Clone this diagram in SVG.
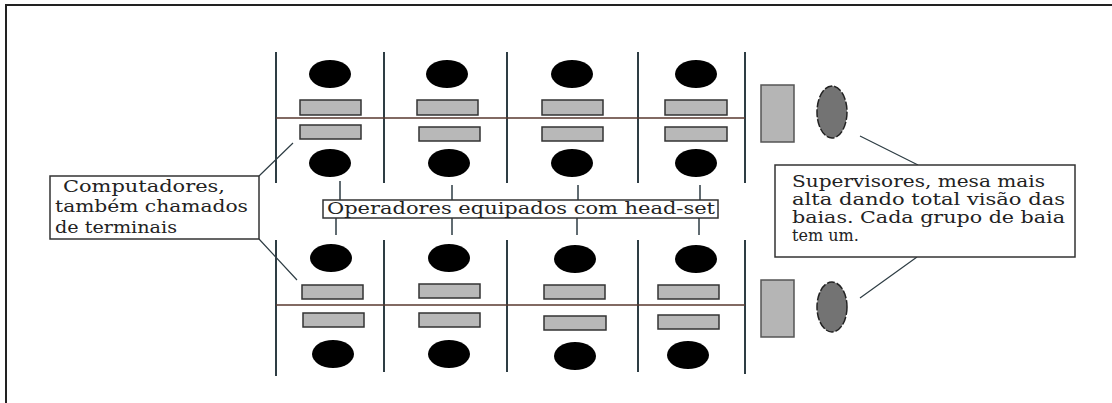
<svg xmlns="http://www.w3.org/2000/svg" width="1112" height="403" viewBox="0 0 1112 403">
<style>
.frame{stroke:#222;stroke-width:2;fill:none}
.wall{stroke:#2e3d44;stroke-width:2;fill:none}
.aisle{stroke:#5a3a30;stroke-width:1.3;fill:none}
.head{fill:#000}
.desk{fill:#b8b8b8;stroke:#333;stroke-width:1.5}
.sdesk{fill:#b5b5b5;stroke:#555;stroke-width:1.5}
.sup{fill:#737373;stroke:#222;stroke-width:1.5;stroke-dasharray:8 2}
.box{fill:#fff;stroke:#333;stroke-width:1.5}
.lead{stroke:#2e3d44;stroke-width:1.2;fill:none}
.tick{stroke:#2e3d44;stroke-width:1.5}
.lbl{font-family:'DejaVu Serif','Liberation Serif',serif;font-size:16px;fill:#222}
</style>
<rect width="1112" height="403" fill="#fff"/>
<path class="frame" d="M6,403 V5 H1112"/>
<g id="layout">
<g id="walls">
<path class="wall" d="M276,52V183M384,52V183M507,52V183M638,52V183M745,52V183"/>
<path class="wall" d="M276,240V376M384,240V372M507,240V372M638,240V372M745,240V374"/>
<path class="aisle" d="M276,118H745M276,305H745"/>
</g>
<g id="bay-top">
<ellipse class="head" cx="330" cy="74" rx="21" ry="14"/>
<ellipse class="head" cx="447" cy="74" rx="21" ry="14"/>
<ellipse class="head" cx="572" cy="74" rx="21" ry="14"/>
<ellipse class="head" cx="696" cy="74" rx="21" ry="14"/>
<rect class="desk" x="300" y="100" width="61" height="15"/>
<rect class="desk" x="417" y="100" width="61" height="15"/>
<rect class="desk" x="542" y="100" width="61" height="15"/>
<rect class="desk" x="665" y="100" width="62" height="15"/>
<rect class="desk" x="300" y="125" width="61" height="14"/>
<rect class="desk" x="419" y="127" width="61" height="14"/>
<rect class="desk" x="542" y="127" width="61" height="14"/>
<rect class="desk" x="665" y="127" width="62" height="14"/>
<ellipse class="head" cx="330" cy="163" rx="21" ry="14"/>
<ellipse class="head" cx="449" cy="163" rx="21" ry="14"/>
<ellipse class="head" cx="572" cy="163" rx="21" ry="14"/>
<ellipse class="head" cx="696" cy="163" rx="21" ry="14"/>
</g>
<g id="bay-bottom">
<ellipse class="head" cx="331" cy="258" rx="21" ry="14"/>
<ellipse class="head" cx="449" cy="258" rx="21" ry="14"/>
<ellipse class="head" cx="575" cy="259" rx="21" ry="14"/>
<ellipse class="head" cx="696" cy="259" rx="21" ry="14"/>
<rect class="desk" x="302" y="285" width="61" height="14"/>
<rect class="desk" x="419" y="284" width="61" height="14"/>
<rect class="desk" x="544" y="285" width="61" height="14"/>
<rect class="desk" x="658" y="285" width="61" height="14"/>
<rect class="desk" x="303" y="313" width="61" height="14"/>
<rect class="desk" x="419" y="313" width="61" height="14"/>
<rect class="desk" x="544" y="316" width="62" height="14"/>
<rect class="desk" x="658" y="315" width="61" height="14"/>
<ellipse class="head" cx="333" cy="354" rx="21" ry="14"/>
<ellipse class="head" cx="449" cy="354" rx="21" ry="14"/>
<ellipse class="head" cx="575" cy="356" rx="21" ry="14"/>
<ellipse class="head" cx="688" cy="355" rx="21" ry="14"/>
</g>
<g id="supervisors">
<rect class="sdesk" x="761" y="85" width="33" height="57"/>
<ellipse class="sup" cx="832" cy="112" rx="15" ry="26"/>
<rect class="sdesk" x="761" y="280" width="33" height="57"/>
<ellipse class="sup" cx="832" cy="307" rx="15" ry="25"/>
</g>
</g>
<g id="connectors">
<path class="tick" d="M340,181V200M452,185V200M578,185V200M700,185V200"/>
<path class="tick" d="M336,218V235M452,218V235M577,218V235M699,218V235"/>
<path class="lead" d="M259,176L293,143M259,239L297,280"/>
<path class="lead" d="M860,136L918,165M917,257L860,298"/>
</g>
<g id="label-computadores">
<rect class="box" x="50" y="176" width="209" height="63"/>
<text class="lbl" x="63" y="192" textLength="162" lengthAdjust="spacingAndGlyphs">Computadores,</text>
<text class="lbl" x="55" y="212" textLength="193" lengthAdjust="spacingAndGlyphs">também chamados</text>
<text class="lbl" x="55" y="233" textLength="122" lengthAdjust="spacingAndGlyphs">de terminais</text>
</g>
<g id="label-operadores">
<rect class="box" x="323" y="200" width="395" height="18"/>
<text class="lbl" x="327" y="214" textLength="388" lengthAdjust="spacingAndGlyphs">Operadores equipados com head-set</text>
</g>
<g id="label-supervisores">
<rect class="box" x="775" y="165" width="300" height="92"/>
<text class="lbl" x="792" y="187" textLength="253" lengthAdjust="spacingAndGlyphs">Supervisores, mesa mais</text>
<text class="lbl" x="792" y="205" textLength="273" lengthAdjust="spacingAndGlyphs">alta dando total visão das</text>
<text class="lbl" x="792" y="223" textLength="273" lengthAdjust="spacingAndGlyphs">baias. Cada grupo de baia</text>
<text class="lbl" x="792" y="241">tem um.</text>
</g>
</svg>
